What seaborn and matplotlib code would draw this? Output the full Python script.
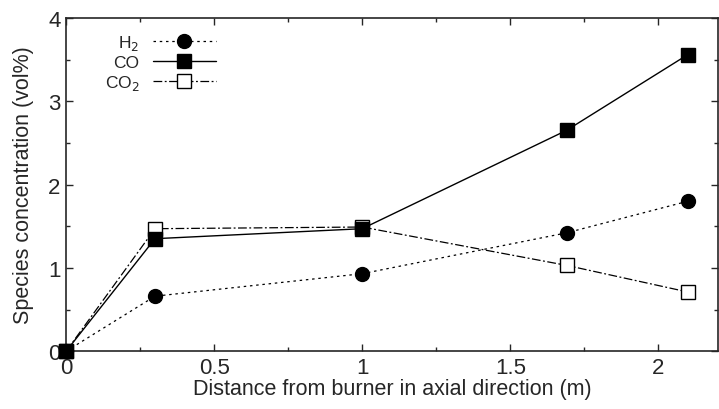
import matplotlib
matplotlib.use("Agg")
import matplotlib.pyplot as plt
import seaborn as sns
import pandas as pd
from matplotlib.ticker import MultipleLocator

sns.set_style("ticks")
plt.rcParams['font.family'] = ['Liberation Sans', 'DejaVu Sans']

# Valores
distance = [0.0, 0.3, 1.0, 1.69, 2.1]
h2 = [0.0, 0.66, 0.93, 1.42, 1.80]
co = [0.0, 1.35, 1.47, 2.65, 3.56]
co2 = [0.0, 1.47, 1.49, 1.03, 0.71]

# CO desenhado por último (fica por cima dos quadrados abertos)
series = [
    ("H$_2$", h2, dict(linestyle=(0, (2, 3)), marker='o', markerfacecolor='black', linewidth=0.9)),
    ("CO$_2$", co2, dict(linestyle=(0, (7, 2, 1.5, 2)), marker='s', markerfacecolor='white', linewidth=0.9)),
    ("CO", co, dict(linestyle='-', marker='s', markerfacecolor='black', linewidth=1.0)),
]

fig = plt.figure(figsize=(7.19, 4.10), dpi=100)
ax = fig.add_axes([0.092, 0.141, 0.906, 0.813])

for label, values, style in series:
    df = pd.DataFrame({'x': distance, 'y': values})
    sns.lineplot(data=df, x='x', y='y', ax=ax, color='black', label=label,
                 markersize=10, markeredgecolor='black', markeredgewidth=1.0,
                 clip_on=False, zorder=3, **style)

ax.set_xlim(0, 2.2)
ax.set_ylim(0, 4)
ax.xaxis.set_minor_locator(MultipleLocator(0.25))
ax.yaxis.set_major_locator(MultipleLocator(1))
ax.yaxis.set_minor_locator(MultipleLocator(0.5))
ax.set_xticks([0, 0.5, 1, 1.5, 2])
ax.set_xticklabels(['0', '0.5', '1', '1.5', '2'])
ax.tick_params(which='both', direction='in', top=True, right=True, labelsize=16, width=1)
ax.tick_params(which='major', length=5, pad=4)
ax.tick_params(which='minor', length=3)
for s in ax.spines.values():
    s.set_linewidth(1.2)

ax.set_xlabel('Distance from burner in axial direction (m)', fontsize=15.5, labelpad=0)
ax.set_ylabel('Species concentration (vol%)', fontsize=15.5, labelpad=10)

# Ordem da legenda como na referência
handles, labels = ax.get_legend_handles_labels()
order = [labels.index("H$_2$"), labels.index("CO"), labels.index("CO$_2$")]
ax.legend([handles[i] for i in order], [labels[i] for i in order],
          loc='upper left', frameon=False, markerfirst=False, fontsize=12.5,
          handlelength=3.6, labelspacing=0.15, bbox_to_anchor=(0.035, 1.0))

fig.savefig('out.png', dpi=100)
